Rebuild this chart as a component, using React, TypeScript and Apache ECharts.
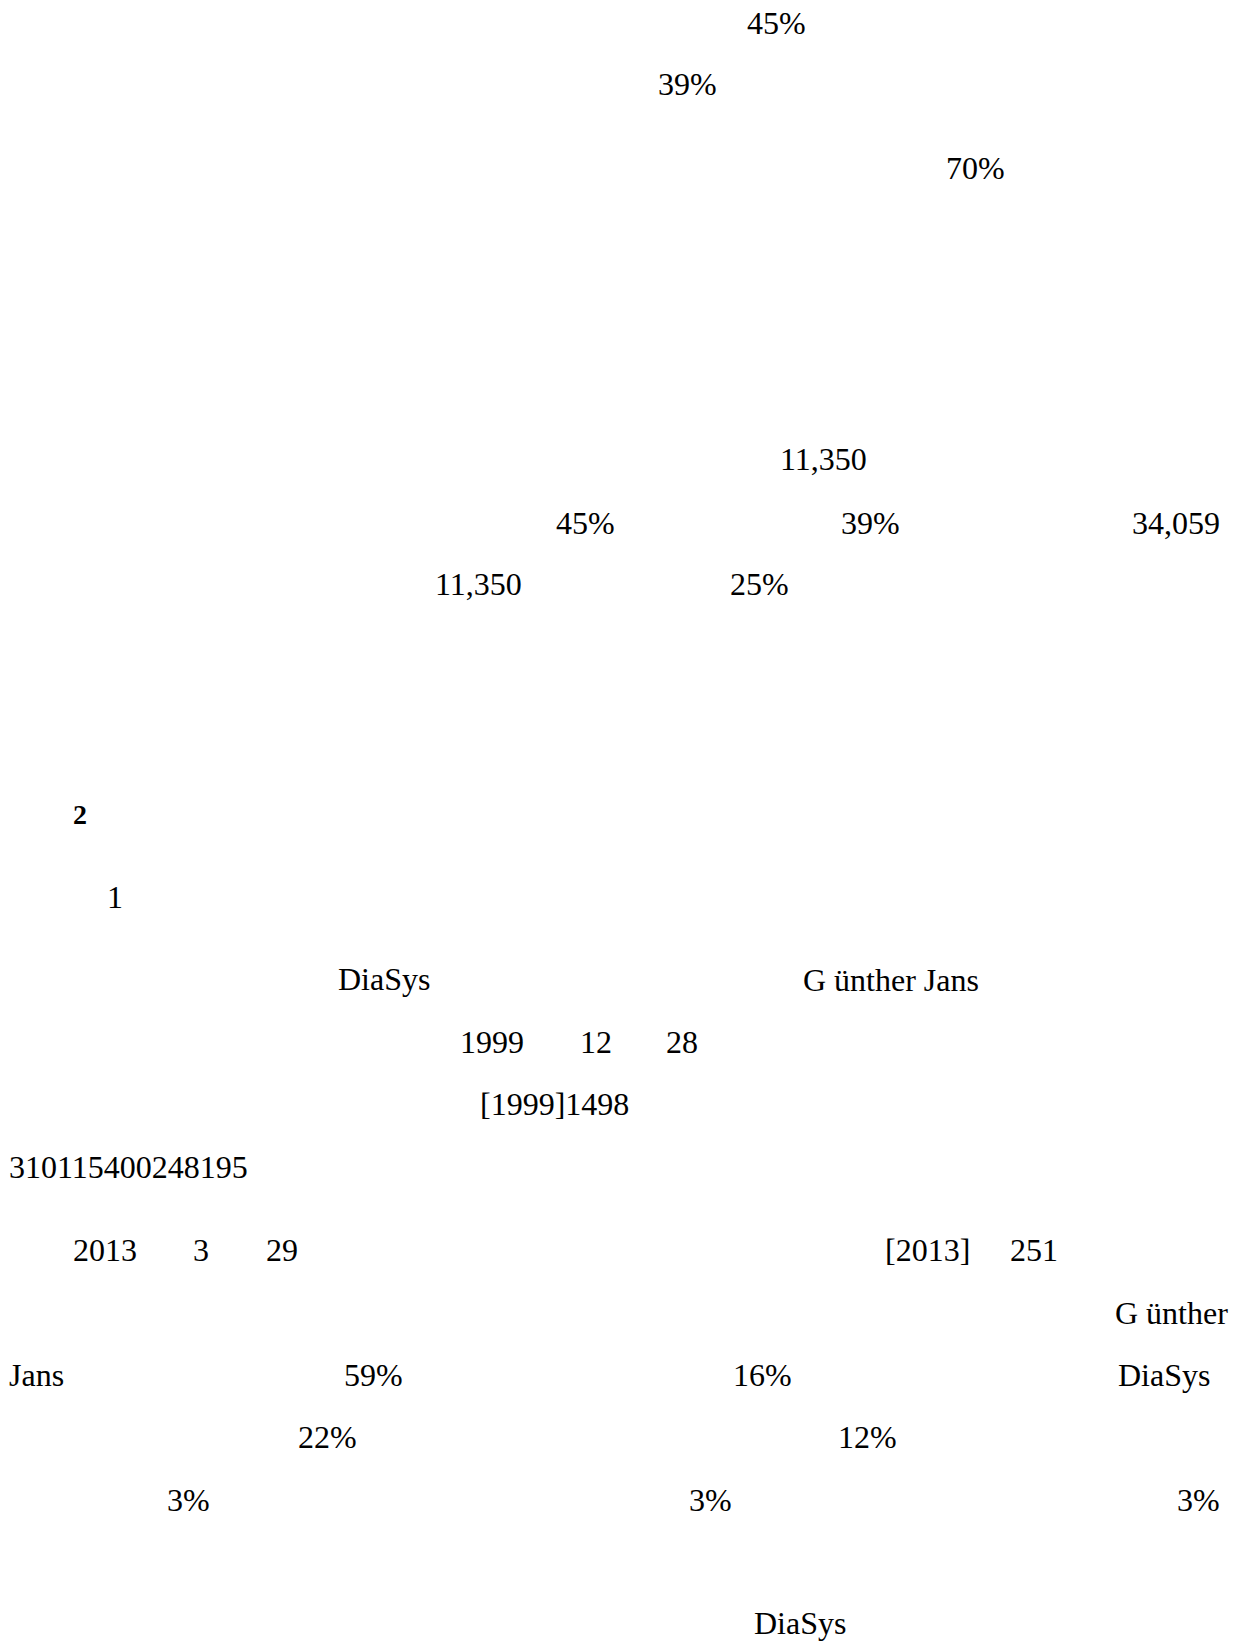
import React, { useEffect, useRef } from "react";
import * as echarts from "echarts";

// Text fragments visible on the page
const topShares = ["45%", "39%", "70%"];
const structureValues = ["11,350", "45%", "39%", "34,059", "11,350", "25%"];
const headingLabels = ["2", "1"];
const historyTexts = [
  "DiaSys",
  "G ünther Jans",
  "1999",
  "12",
  "28",
  "[1999]1498",
  "310115400248195",
  "2013",
  "3",
  "29",
  "[2013]",
  "251",
  "G ünther",
];
const holderTexts = ["Jans", "59%", "16%", "DiaSys", "22%", "12%", "3%", "3%", "3%", "DiaSys"];

// Layout (left x, vertical centre of glyphs) in page pixels
const topLayout = [
  [747, 22.5],
  [658, 84],
  [946, 168],
];
const structureLayout = [
  [780, 459],
  [556, 522.5],
  [841, 522.5],
  [1132, 522.5],
  [435, 584],
  [730, 584],
];
const headingLayout = [
  [73, 814],
  [107, 896.5],
];
const historyLayout = [
  [338, 979],
  [803, 980],
  [460, 1042],
  [580, 1042],
  [666, 1042],
  [480, 1104],
  [9, 1166.5],
  [73, 1250],
  [193, 1250],
  [266, 1250],
  [885, 1250],
  [1010, 1250],
  [1115, 1313],
];
const holderLayout = [
  [9, 1375],
  [344, 1375],
  [733, 1375],
  [1118, 1375],
  [298, 1437],
  [838, 1437],
  [167, 1500],
  [689, 1500],
  [1177, 1500],
  [754, 1623],
];

const FONT = "'Liberation Serif', 'Times New Roman', serif";

function makeTexts(labels: string[], layout: number[][], size = 32, weight: string = "normal") {
  return labels.map((t, i) => ({
    type: "text",
    x: layout[i][0],
    y: layout[i][1],
    silent: true,
    style: {
      text: t,
      fill: "#000000",
      fontSize: size,
      fontFamily: FONT,
      fontWeight: weight,
      align: "left",
      verticalAlign: "middle",
      textAlign: "left",
      textVerticalAlign: "middle",
    },
  }));
}

export default function App() {
  const ref = useRef<HTMLDivElement>(null);
  useEffect(() => {
    if (!ref.current) return;
    const chart = echarts.init(ref.current, undefined, { renderer: "svg" });
    chart.setOption({
      animation: false,
      backgroundColor: "#ffffff",
      graphic: {
        elements: [
          ...makeTexts(topShares, topLayout),
          ...makeTexts(structureValues, structureLayout),
          ...makeTexts(headingLabels.slice(0, 1), headingLayout.slice(0, 1), 28, "bold"),
          ...makeTexts(headingLabels.slice(1), headingLayout.slice(1)),
          ...makeTexts(historyTexts, historyLayout),
          ...makeTexts(holderTexts, holderLayout),
        ],
      },
    });
    return () => chart.dispose();
  }, []);
  return (
    <div
      ref={ref}
      style={{ position: "absolute", left: 0, top: 0, width: 1235, height: 1643, background: "#fff" }}
    />
  );
}
